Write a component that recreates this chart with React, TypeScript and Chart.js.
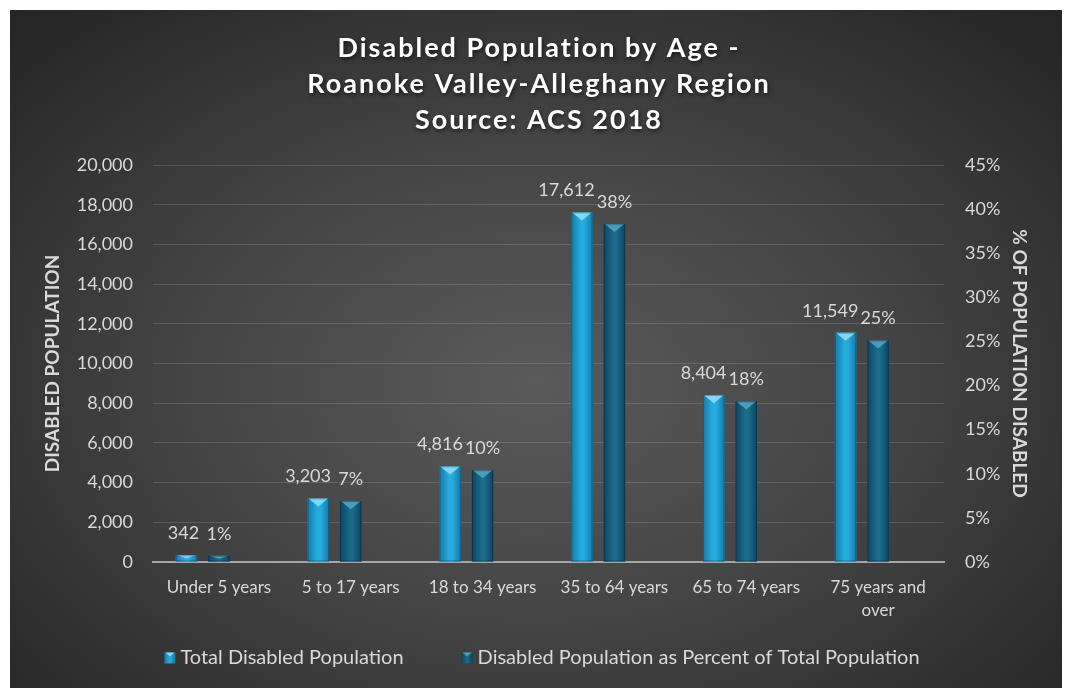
import React, { useEffect, useRef } from 'react';
import { Chart, registerables } from 'chart.js';

Chart.register(...registerables);

const categories: (string | string[])[] = [
  'Under 5 years',
  '5 to 17 years',
  '18 to 34 years',
  '35 to 64 years',
  '65 to 74 years',
  ['75 years and', 'over'],
];
const totalDisabled = [342, 3203, 4816, 17612, 8404, 11549];
const percentDisabled = [0.7, 6.9, 10.4, 38.3, 18.2, 25.1];
const spacerSeries = [null, null, null, null, null, null];
const titleLines = ['Disabled Population by Age -', 'Roanoke Valley-Alleghany Region', 'Source: ACS 2018'];
const seriesNames = ['Total Disabled Population', 'Disabled Population as Percent of Total Population'];
const leftAxisTitle = 'DISABLED POPULATION';
const rightAxisTitle = '% OF POPULATION DISABLED';

const FONT = 'Lato, "Open Sans", sans-serif';
const TEXT = '#d9d9d9';

const palettes = [
  { edge: '#167aa6', mid: '#27ace0', top: '#7fdaf6', legend: '#23a3d8' },
  { edge: '#0d4560', mid: '#1b6b8d', top: '#4c9cba', legend: '#1a6486' },
];

const barPainter = {
  id: 'barPainter',
  afterDatasetsDraw(chart: any) {
    const ctx = chart.ctx;
    ctx.save();
    [0, 1].forEach((di) => {
      const meta = chart.getDatasetMeta(di);
      const pal = palettes[di];
      meta.data.forEach((bar: any, i: number) => {
        const { x, y, base, width } = bar.getProps(['x', 'y', 'base', 'width'], true);
        const l = x - width / 2;
        const r = x + width / 2;
        const h = base - y;
        const g = ctx.createLinearGradient(l, 0, r, 0);
        g.addColorStop(0, pal.edge);
        g.addColorStop(0.45, pal.mid);
        g.addColorStop(0.6, pal.mid);
        g.addColorStop(1, pal.edge);
        ctx.fillStyle = g;
        ctx.fillRect(l, y, width, h);
        const th = Math.min(8, h / 2);
        ctx.beginPath();
        ctx.moveTo(l + 1, y);
        ctx.lineTo(r - 1, y);
        ctx.lineTo(x, y + th);
        ctx.closePath();
        ctx.fillStyle = pal.top;
        ctx.fill();
        ctx.strokeStyle = 'rgba(0,0,0,0.25)';
        ctx.lineWidth = 1;
        ctx.strokeRect(l + 0.5, y + 0.5, width - 1, h - 1);

        // data labels
        ctx.fillStyle = TEXT;
        ctx.font = `18px ${FONT}`;
        ctx.textBaseline = 'middle';
        if (di === 0) {
          ctx.textAlign = 'right';
          ctx.fillText(totalDisabled[i].toLocaleString('en-US'), r + 2, y - 22);
        } else {
          ctx.textAlign = 'center';
          ctx.fillText(percentDisabled[i].toFixed(0) + '%', x, y - 22);
        }
      });
    });
    ctx.restore();
  },
};

const titleAndLegendPainter = {
  id: 'titleAndLegendPainter',
  afterDraw(chart: any) {
    const ctx = chart.ctx;
    const cx = chart.width / 2;
    ctx.save();
    // title
    ctx.font = `bold 27px ${FONT}`;
    (ctx as any).letterSpacing = '2px';
    ctx.textAlign = 'center';
    ctx.textBaseline = 'middle';
    ctx.fillStyle = '#ffffff';
    ctx.shadowColor = 'rgba(0,0,0,0.6)';
    ctx.shadowBlur = 4;
    ctx.shadowOffsetX = 1;
    ctx.shadowOffsetY = 2;
    titleLines.forEach((line, i) => ctx.fillText(line, cx + 3, 38 + i * 36));
    ctx.restore();

    // legend
    ctx.save();
    ctx.font = `20px ${FONT}`;
    ctx.textBaseline = 'middle';
    ctx.textAlign = 'left';
    const box = 11;
    const gap = 5;
    const itemGap = 58;
    const widths = seriesNames.map((n) => box + gap + ctx.measureText(n).width);
    const total = widths.reduce((a, b) => a + b, 0) + itemGap * (widths.length - 1);
    let x = cx - total / 2 + 6;
    const y = 648;
    seriesNames.forEach((n, i) => {
      const pal = palettes[i];
      const g = ctx.createLinearGradient(x, 0, x + box, 0);
      g.addColorStop(0, pal.edge);
      g.addColorStop(0.5, pal.mid);
      g.addColorStop(1, pal.edge);
      ctx.fillStyle = g;
      ctx.fillRect(x, y - box / 2, box, box);
      ctx.beginPath();
      ctx.moveTo(x + 1, y - box / 2);
      ctx.lineTo(x + box - 1, y - box / 2);
      ctx.lineTo(x + box / 2, y - box / 2 + 4);
      ctx.closePath();
      ctx.fillStyle = pal.top;
      ctx.fill();
      ctx.fillStyle = TEXT;
      ctx.fillText(n, x + box + gap, y);
      x += widths[i] + itemGap;
    });
    ctx.restore();
  },
};

export default function App() {
  const ref = useRef<HTMLCanvasElement | null>(null);

  useEffect(() => {
    if (!ref.current) return;
    const chart = new Chart(ref.current, {
      type: 'bar',
      data: {
        labels: categories as any,
        datasets: [
          {
            label: seriesNames[0],
            data: totalDisabled,
            yAxisID: 'y',
            backgroundColor: palettes[0].legend,
          },
          {
            label: seriesNames[1],
            data: percentDisabled,
            yAxisID: 'y1',
            backgroundColor: palettes[1].legend,
          },
          {
            label: 'spacer',
            data: spacerSeries as any,
            yAxisID: 'y',
            backgroundColor: 'rgba(0,0,0,0)',
          },
        ],
      },
      options: {
        animation: false,
        responsive: true,
        maintainAspectRatio: false,
        datasets: { bar: { categoryPercentage: 0.739, barPercentage: 0.66 } },
        layout: { padding: { top: 155, bottom: 56, left: 0, right: 0 } },
        plugins: {
          legend: { display: false },
          title: { display: false },
          tooltip: { enabled: false },
        },
        scales: {
          x: {
            grid: { display: false },
            border: { display: true, color: '#a6a6a6', width: 2 },
            ticks: {
              color: TEXT,
              font: { family: FONT, size: 17, lineHeight: 1.35 },
              padding: 6,
              maxRotation: 0,
              autoSkip: false,
            },
            afterFit: (s: any) => {
              s.height = 70;
            },
          },
          y: {
            position: 'left',
            min: 0,
            max: 20000,
            ticks: {
              stepSize: 2000,
              color: TEXT,
              font: { family: FONT, size: 18 },
              padding: 20,
              callback: (v: any) => Number(v).toLocaleString('en-US'),
            },
            grid: {
              drawTicks: false,
              color: (c: any) => (c.tick && c.tick.value === 0 ? 'rgba(0,0,0,0)' : 'rgba(255,255,255,0.14)'),
              lineWidth: 1,
            },
            border: { display: false },
            title: {
              display: true,
              text: leftAxisTitle,
              color: TEXT,
              font: { family: FONT, size: 19, weight: 'bold', lineHeight: 1.2 },
              padding: { top: 31, bottom: 0 },
            },
            afterFit: (s: any) => {
              s.width = 143;
            },
          },
          y1: {
            position: 'right',
            min: 0,
            max: 45,
            ticks: {
              stepSize: 5,
              color: TEXT,
              font: { family: FONT, size: 18 },
              padding: 21,
              callback: (v: any) => v + '%',
            },
            grid: { drawOnChartArea: false, drawTicks: false },
            border: { display: false },
            title: {
              display: true,
              text: rightAxisTitle,
              color: TEXT,
              font: { family: FONT, size: 19, weight: 'bold', lineHeight: 1.2 },
              padding: { top: 31, bottom: 0 },
            },
            afterFit: (s: any) => {
              s.width = 118;
            },
          },
        },
      },
      plugins: [barPainter, titleAndLegendPainter],
    });
    return () => chart.destroy();
  }, []);

  return (
    <div
      style={{
        position: 'absolute',
        left: 10,
        top: 10,
        width: 1052,
        height: 678,
        background: 'radial-gradient(ellipse 75% 80% at 50% 55%, #5a5a5a 0%, #444444 45%, #2a2a2a 85%, #232323 100%)',
      }}
    >
      <canvas ref={ref} />
    </div>
  );
}
